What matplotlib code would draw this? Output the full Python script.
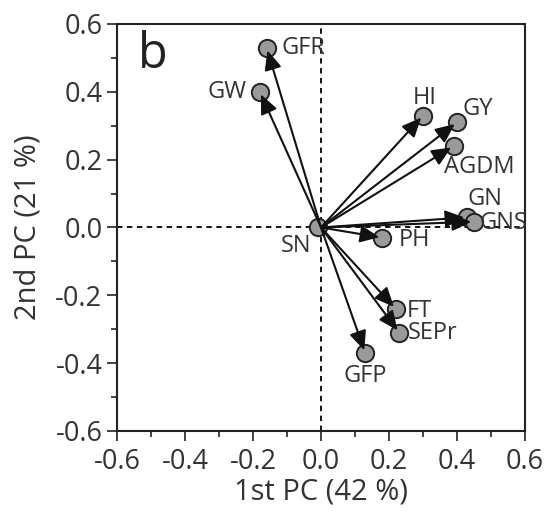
import matplotlib.pyplot as plt
from matplotlib.ticker import MultipleLocator

plt.rcParams['font.family'] = ['Open Sans', 'DejaVu Sans']

# loadings on PC1 / PC2
traits = ['GFR', 'GW', 'HI', 'GY', 'AGDM', 'GN', 'GNS', 'SN', 'PH', 'FT', 'SEPr', 'GFP']
pc1 = [-0.16, -0.18, 0.30, 0.40, 0.39, 0.43, 0.45, -0.01, 0.18, 0.22, 0.23, 0.13]
pc2 = [0.53, 0.40, 0.33, 0.31, 0.24, 0.03, 0.017, 0.0, -0.03, -0.24, -0.31, -0.37]

# label offsets (points) and alignment
lab = {
    'GFR': (11, 0, 'left', 'center'),
    'GW': (-9.5, 0, 'right', 'center'),
    'HI': (1.5, 8.6, 'center', 'baseline'),
    'GY': (3.6, 5, 'left', 'baseline'),
    'AGDM': (-7, -19.5, 'left', 'baseline'),
    'GN': (0, 9, 'left', 'baseline'),
    'GNS': (3.6, -1, 'left', 'center'),
    'SN': (-4.3, -18, 'right', 'baseline'),
    'PH': (12, -1.5, 'left', 'center'),
    'FT': (8, -1.5, 'left', 'center'),
    'SEPr': (6.5, 0, 'left', 'center'),
    'GFP': (0, -21, 'center', 'baseline'),
}

fig = plt.figure(figsize=(5.49, 5.19), dpi=100)
ax = fig.add_axes([0.2131, 0.1696, 0.7432, 0.7842])

ax.axhline(0, color='black', ls=(0, (3, 2.5)), lw=1.3, zorder=1)
ax.axvline(0, color='black', ls=(0, (3, 2.5)), lw=1.3, zorder=1)

ax.plot(pc1, pc2, 'o', ms=12.5, mfc='#9a9a9a', mec='#222222', mew=1.4, zorder=2)

for t, x, y in zip(traits, pc1, pc2):
    if t != 'SN':
        ax.annotate('', xy=(x, y), xytext=(0, 0),
                    arrowprops=dict(arrowstyle='-|>,head_length=0.45,head_width=0.2',
                                    color='#111111', lw=1.5,
                                    mutation_scale=26, shrinkA=0, shrinkB=2),
                    zorder=3)
    dx, dy, ha, va = lab[t]
    ax.annotate(t, (x, y), xytext=(dx, dy), textcoords='offset points',
                ha=ha, va=va, fontsize=17, color='#333333', zorder=4)

ax.text(0.088, 0.924, 'b', transform=ax.transAxes, fontsize=35, color='#222222',
        ha='center', va='center')

ax.set_xlim(-0.6, 0.6)
ax.set_ylim(-0.6, 0.6)
ax.xaxis.set_major_locator(MultipleLocator(0.2))
ax.yaxis.set_major_locator(MultipleLocator(0.2))
ax.xaxis.set_minor_locator(MultipleLocator(0.1))
ax.yaxis.set_minor_locator(MultipleLocator(0.1))
ax.set_xticklabels([f'{v:.1f}' for v in ax.get_xticks()])
ax.set_yticklabels([f'{v:.1f}' for v in ax.get_yticks()])
ax.tick_params(which='major', length=7.5, width=1.2, labelsize=19.5, pad=3,
               colors='#222222', labelcolor='#333333')
ax.tick_params(axis='x', which='major', pad=5)
ax.tick_params(which='minor', length=4.3, width=1.2, colors='#222222')
for s in ax.spines.values():
    s.set_linewidth(1.5)
    s.set_color('#222222')

ax.set_xlabel('1st PC (42 %)', fontsize=21, color='#333333', labelpad=1)
ax.set_ylabel('2nd PC (21 %)', fontsize=21, color='#333333', labelpad=9)

fig.savefig('out.png', dpi=100)
